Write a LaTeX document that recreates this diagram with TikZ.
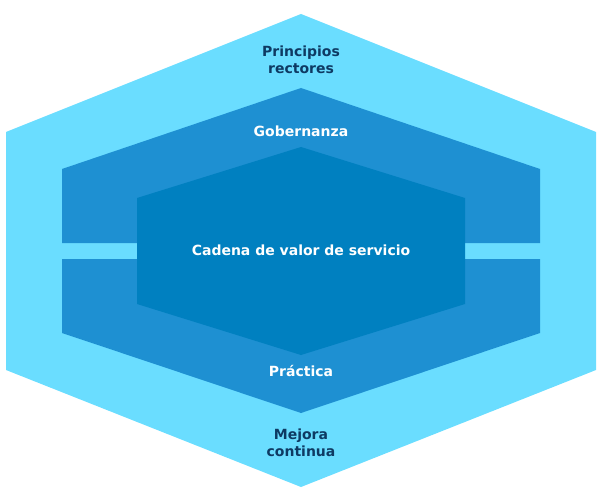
\documentclass[tikz,border=0pt]{standalone}
\usepackage{fontspec}
\setmainfont{DejaVu Sans}
\definecolor{lc}{HTML}{6ADDFF}
\definecolor{mc}{HTML}{1E90D2}
\definecolor{ic}{HTML}{0080C0}
\definecolor{tx}{HTML}{0E3A63}
\begin{document}
\begin{tikzpicture}[x=1pt,y=-1pt,
  dark/.style={font=\bfseries\fontsize{14}{17}\selectfont,text=tx,align=center},
  light/.style={font=\bfseries\fontsize{14}{17}\selectfont,text=white,align=center}]
\useasboundingbox (0,0) rectangle (600,500);
\fill[lc] (301,14) -- (596,132) -- (596,370) -- (301,487) -- (6,370) -- (6,132) -- cycle;
\fill[mc] (62,169) -- (301,88) -- (540,169) -- (540,243) -- (62,243) -- cycle;
\fill[mc] (62,259) -- (540,259) -- (540,333) -- (301,413) -- (62,333) -- cycle;
\fill[ic] (137,198) -- (301,147) -- (465,198) -- (465,304) -- (301,355) -- (137,304) -- cycle;
\node[dark] (pr) at (301,60) {Principios\\rectores};
\node[light] (gob) at (301,131) {Gobernanza};
\node[light] (cad) at (301,250) {Cadena de valor de servicio};
\node[light] (pra) at (301,371) {Práctica};
\node[dark] (mej) at (301,443) {Mejora\\continua};
\end{tikzpicture}
\end{document}
